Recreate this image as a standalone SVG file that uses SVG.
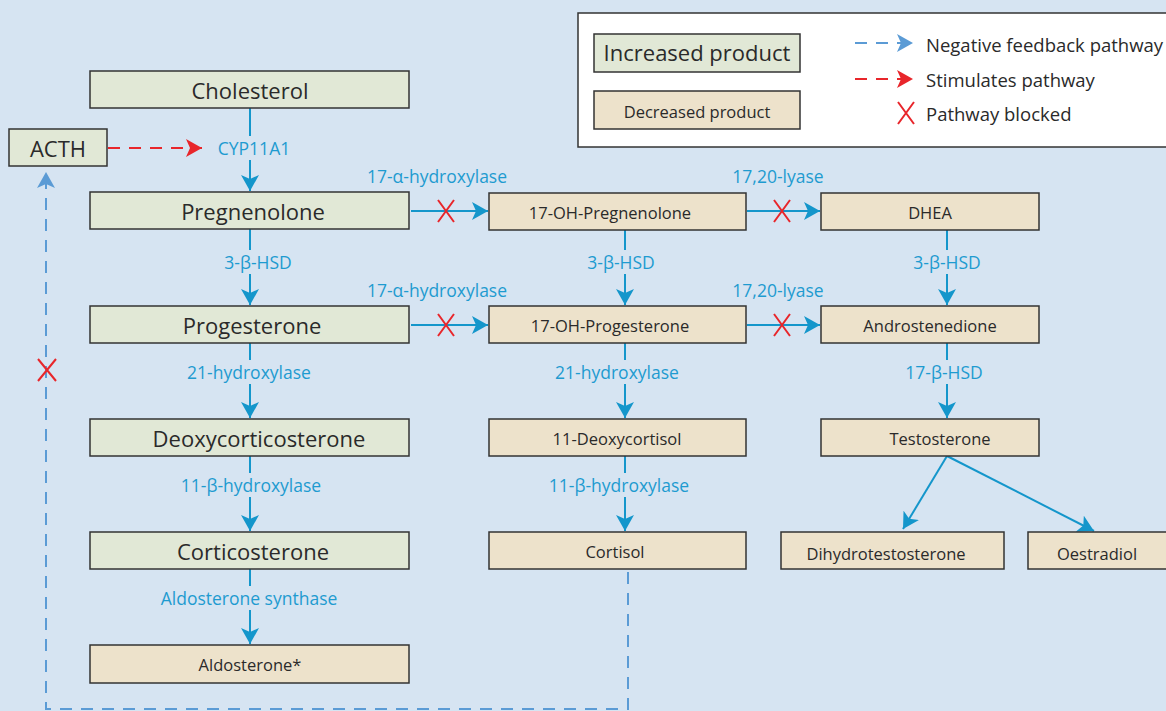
<svg xmlns="http://www.w3.org/2000/svg" width="1166" height="711" viewBox="0 0 1166 711">
<defs>
<style>
.bg{fill:#D6E4F2}
.inc{fill:#E1E8D6;stroke:#333;stroke-width:1.5}
.dec{fill:#EDE2CB;stroke:#333;stroke-width:1.5}
.t1{font-family:"Open Sans","Liberation Sans",sans-serif;font-size:22px;fill:#2a2a2a;text-anchor:middle;dominant-baseline:central}
.t2{font-family:"Open Sans","Liberation Sans",sans-serif;font-size:16.5px;fill:#2a2a2a;text-anchor:middle;dominant-baseline:central}
.lbl{font-family:"Open Sans","Liberation Sans",sans-serif;font-size:17.5px;fill:#1E9BD0;text-anchor:middle;dominant-baseline:central}
.leg{font-family:"Open Sans","Liberation Sans",sans-serif;font-size:18.5px;fill:#2a2a2a;dominant-baseline:central}
.ln{stroke:#1496CB;stroke-width:2;fill:none}
.x{stroke:#E8262B;stroke-width:2;fill:none}
.fb{stroke:#5B9BD5;stroke-width:2;fill:none;stroke-dasharray:12 9}
.st{stroke:#E8262B;stroke-width:2;fill:none;stroke-dasharray:12 9}
</style>
<marker id="ab" markerUnits="userSpaceOnUse" markerWidth="16" markerHeight="18" viewBox="0 0 16 18" refX="16" refY="9" orient="auto">
<path d="M0,0 L16,9 L0,18 L4,9 Z" fill="#1496CB"/>
</marker>
<marker id="af" markerUnits="userSpaceOnUse" markerWidth="16" markerHeight="18" viewBox="0 0 16 18" refX="16" refY="9" orient="auto">
<path d="M0,0 L16,9 L0,18 L4,9 Z" fill="#5B9BD5"/>
</marker>
<marker id="ar" markerUnits="userSpaceOnUse" markerWidth="16" markerHeight="18" viewBox="0 0 16 18" refX="16" refY="9" orient="auto">
<path d="M0,0 L16,9 L0,18 L4,9 Z" fill="#E8262B"/>
</marker>
</defs>
<rect class="bg" x="0" y="0" width="1166" height="711"/>

<g id="connectors">
<line class="ln" x1="250" y1="108" x2="250" y2="136"/>
<line class="ln" x1="250" y1="160" x2="250" y2="191" marker-end="url(#ab)"/>
<line class="ln" x1="250" y1="229" x2="250" y2="250"/>
<line class="ln" x1="250" y1="274" x2="250" y2="305" marker-end="url(#ab)"/>
<line class="ln" x1="250" y1="343" x2="250" y2="360"/>
<line class="ln" x1="250" y1="384" x2="250" y2="418" marker-end="url(#ab)"/>
<line class="ln" x1="250" y1="456" x2="250" y2="473"/>
<line class="ln" x1="250" y1="497" x2="250" y2="531" marker-end="url(#ab)"/>
<line class="ln" x1="250" y1="569" x2="250" y2="586"/>
<line class="ln" x1="250" y1="610" x2="250" y2="644" marker-end="url(#ab)"/>
<line class="ln" x1="625" y1="230" x2="625" y2="250"/>
<line class="ln" x1="625" y1="274" x2="625" y2="305" marker-end="url(#ab)"/>
<line class="ln" x1="625" y1="343" x2="625" y2="360"/>
<line class="ln" x1="625" y1="384" x2="625" y2="418" marker-end="url(#ab)"/>
<line class="ln" x1="625" y1="456" x2="625" y2="473"/>
<line class="ln" x1="625" y1="497" x2="625" y2="531" marker-end="url(#ab)"/>
<line class="ln" x1="947" y1="230" x2="947" y2="250"/>
<line class="ln" x1="947" y1="274" x2="947" y2="305" marker-end="url(#ab)"/>
<line class="ln" x1="947" y1="343" x2="947" y2="360"/>
<line class="ln" x1="947" y1="384" x2="947" y2="418" marker-end="url(#ab)"/>
<line class="ln" x1="947" y1="456" x2="903" y2="529" marker-end="url(#ab)"/>
<line class="ln" x1="947" y1="456" x2="1094" y2="531" marker-end="url(#ab)"/>
<line class="ln" x1="411" y1="211" x2="488" y2="211" marker-end="url(#ab)"/>
<line class="ln" x1="747" y1="211" x2="820" y2="211" marker-end="url(#ab)"/>
<line class="ln" x1="411" y1="325" x2="488" y2="325" marker-end="url(#ab)"/>
<line class="ln" x1="747" y1="325" x2="820" y2="325" marker-end="url(#ab)"/>
<line class="st" x1="108" y1="148" x2="202" y2="148" marker-end="url(#ar)"/>
<path class="fb" d="M628,572 L628,709 L46,709 L46,172" marker-end="url(#af)"/>
<text class="lbl" x="254" y="148">CYP11A1</text>
<text class="lbl" x="437" y="176">17-α-hydroxylase</text>
<text class="lbl" x="778" y="176">17,20-lyase</text>
<text class="lbl" x="437" y="290">17-α-hydroxylase</text>
<text class="lbl" x="778" y="290">17,20-lyase</text>
<text class="lbl" x="258" y="262">3-β-HSD</text>
<text class="lbl" x="621" y="262">3-β-HSD</text>
<text class="lbl" x="947" y="262">3-β-HSD</text>
<text class="lbl" x="249" y="372">21-hydroxylase</text>
<text class="lbl" x="617" y="372">21-hydroxylase</text>
<text class="lbl" x="944" y="372">17-β-HSD</text>
<text class="lbl" x="251" y="485">11-β-hydroxylase</text>
<text class="lbl" x="619" y="485">11-β-hydroxylase</text>
<text class="lbl" x="249" y="598">Aldosterone synthase</text>
<path class="x" d="M438,200 L454,222 M454,200 L438,222"/>
<path class="x" d="M774,200 L790,222 M790,200 L774,222"/>
<path class="x" d="M438,314 L454,336 M454,314 L438,336"/>
<path class="x" d="M774,314 L790,336 M790,314 L774,336"/>
<path class="x" d="M38,359 L56,381 M56,359 L38,381"/>
</g>

<g id="n-acth"><rect class="inc" x="9" y="129" width="98" height="37"/><text class="t1" x="58" y="148">ACTH</text></g>
<g id="n-cholesterol"><rect class="inc" x="90" y="71" width="319" height="37"/><text class="t1" x="250" y="90">Cholesterol</text></g>
<g id="n-pregnenolone"><rect class="inc" x="90" y="192" width="319" height="37"/><text class="t1" x="253" y="211">Pregnenolone</text></g>
<g id="n-progesterone"><rect class="inc" x="90" y="306" width="319" height="37"/><text class="t1" x="252" y="325">Progesterone</text></g>
<g id="n-deoxycorticosterone"><rect class="inc" x="90" y="419" width="319" height="37"/><text class="t1" x="259" y="438">Deoxycorticosterone</text></g>
<g id="n-corticosterone"><rect class="inc" x="90" y="532" width="319" height="37"/><text class="t1" x="253" y="551">Corticosterone</text></g>
<g id="n-aldosterone"><rect class="dec" x="90" y="645" width="319" height="38"/><text class="t2" x="250" y="664">Aldosterone*</text></g>

<g id="n-17ohpreg"><rect class="dec" x="489" y="193" width="257" height="37"/><text class="t2" x="610" y="212">17-OH-Pregnenolone</text></g>
<g id="n-17ohprog"><rect class="dec" x="489" y="306" width="257" height="37"/><text class="t2" x="610" y="325">17-OH-Progesterone</text></g>
<g id="n-11deoxycortisol"><rect class="dec" x="489" y="419" width="257" height="37"/><text class="t2" x="617" y="438">11-Deoxycortisol</text></g>
<g id="n-cortisol"><rect class="dec" x="489" y="532" width="257" height="37"/><text class="t2" x="615" y="551">Cortisol</text></g>

<g id="n-dhea"><rect class="dec" x="821" y="193" width="218" height="37"/><text class="t2" x="930" y="212">DHEA</text></g>
<g id="n-androstenedione"><rect class="dec" x="821" y="306" width="218" height="37"/><text class="t2" x="930" y="325">Androstenedione</text></g>
<g id="n-testosterone"><rect class="dec" x="821" y="419" width="218" height="37"/><text class="t2" x="940" y="438">Testosterone</text></g>
<g id="n-dht"><rect class="dec" x="781" y="532" width="223" height="37"/><text class="t2" x="886" y="553">Dihydrotestosterone</text></g>
<g id="n-oestradiol"><rect class="dec" x="1028" y="532" width="145" height="37"/><text class="t2" x="1097" y="553">Oestradiol</text></g>

<g id="legend">
<rect x="578" y="13" width="595" height="134" fill="#fff" stroke="#333" stroke-width="1.5"/>
<rect class="inc" x="594" y="34" width="206" height="38"/><text class="t1" x="697" y="52">Increased product</text>
<rect class="dec" x="594" y="91" width="206" height="38"/><text class="t2" x="697" y="111">Decreased product</text>
<line class="fb" x1="855" y1="43" x2="913" y2="43" stroke-dasharray="10 7" marker-end="url(#af)"/>
<line class="st" x1="855" y1="79" x2="913" y2="79" stroke-dasharray="10 7" marker-end="url(#ar)"/>
<path class="x" d="M898,102 L914,124 M914,102 L898,124"/>
<text class="leg" x="926" y="44">Negative feedback pathway</text>
<text class="leg" x="926" y="79">Stimulates pathway</text>
<text class="leg" x="926" y="113">Pathway blocked</text>
</g>
</svg>
